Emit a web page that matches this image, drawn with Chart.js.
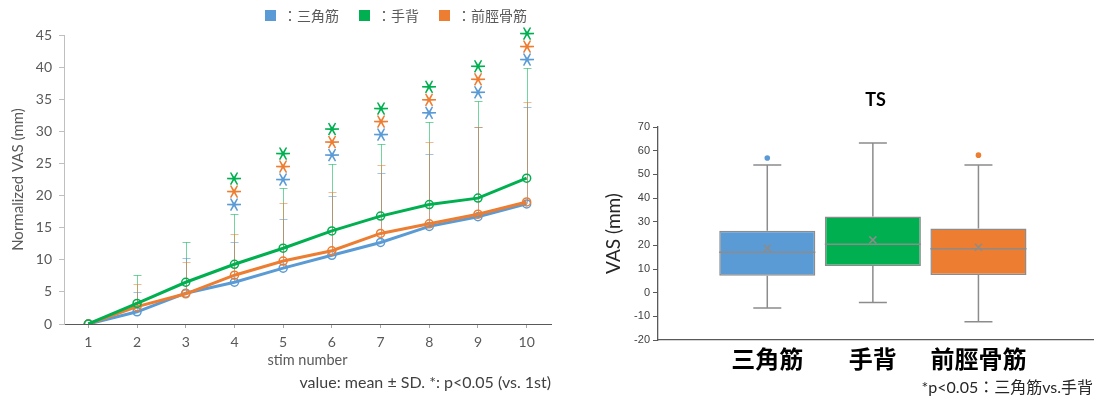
<!DOCTYPE html>
<html>
<head>
<meta charset="utf-8">
<script src="https://cdn.jsdelivr.net/npm/chart.js@4.4.1/dist/chart.umd.min.js"></script>
<style>
  html, body { margin: 0; padding: 0; background: #fff; }
  body { width: 1102px; height: 403px; position: relative; overflow: hidden; }
  #lineWrap { position: absolute; left: 0; top: 0; width: 560px; height: 403px; }
  #boxWrap { position: absolute; left: 560px; top: 0; width: 542px; height: 403px; }
  #legend { position: absolute; left: 265px; top: 5px; height: 20px; display: flex; align-items: center;
            font: 14px "Noto Sans CJK JP", sans-serif; color: #595959; }
  #legend .item { display: flex; align-items: center; margin-right: 20px; }
  #legend .swatch { width: 11px; height: 11px; margin-right: 7px; }
</style>
</head>
<body>
<div id="lineWrap"><canvas id="lineChart" width="560" height="403"></canvas></div>
<div id="legend"></div>
<div id="boxWrap"><canvas id="boxChart" width="542" height="403"></canvas></div>

<script>
// ---- Time course of normalized VAS over 10 stimulations (mean ± SD) ----
const stimNumbers = ['1', '2', '3', '4', '5', '6', '7', '8', '9', '10'];
const seriesNames = ['三角筋', '手背', '前脛骨筋'];

const meanDeltoid  = [0, 1.9, 4.8, 6.5, 8.7, 10.7, 12.7, 15.2, 16.7, 18.7];
const sdDeltoid    = [0, 3.1, 5.5, 6.3, 7.7, 9.2, 10.8, 11.3, 13.9, 15.1];
const meanHand     = [0, 3.2, 6.5, 9.3, 11.8, 14.5, 16.8, 18.6, 19.6, 22.7];
const sdHand       = [0, 4.5, 6.2, 7.9, 9.3, 10.4, 11.3, 12.9, 15.1, 17.1];
const meanTibialis = [0, 2.7, 4.7, 7.6, 9.8, 11.4, 14.1, 15.6, 17.1, 19.0];
const sdTibialis   = [0, 3.5, 5.0, 6.4, 9.1, 9.2, 10.6, 12.7, 13.5, 15.6];

// p<0.05 vs. 1st stimulation
const sigDeltoid  = [false, false, false, true, true, true, true, true, true, true];
const sigHand     = [false, false, false, true, true, true, true, true, true, true];
const sigTibialis = [false, false, false, true, true, true, true, true, true, true];

// ---- TS box plot (VAS, mm) ----
const boxLow    = [-6.5, -4.2, -12.3];
const boxQ1     = [7.1, 11.3, 7.5];
const boxMedian = [17.1, 20.5, 18.6];
const boxQ3     = [26.2, 32.2, 27.1];
const boxHigh   = [53.9, 63.2, 53.9];
const boxMean   = [18.8, 22.3, 19.2];
const boxOutliers = [[56.9], [], [58.1]];

const colors = ['#5b9bd5', '#00b050', '#ed7d31'];
const lightColors = ['rgba(91,155,213,0.6)', 'rgba(0,176,80,0.55)', 'rgba(237,125,49,0.55)'];
const latin = 'Lato, "Noto Sans CJK JP", sans-serif';

Chart.defaults.font.family = latin;
Chart.defaults.animation = false;

// upper SD whiskers drawn under the lines
const sdBars = {
  id: 'sdBars',
  beforeDatasetsDraw(chart) {
    const { ctx, scales: { x, y } } = chart;
    ctx.save();
    ctx.lineWidth = 1;
    [1, 0, 2].forEach(d => {
      const ds = chart.data.datasets[d];
      ctx.strokeStyle = ds.sdColor;
      ds.data.forEach((v, i) => {
        const sd = ds.sd[i];
        if (!sd) return;
        const px = Math.round(x.getPixelForValue(i)) + 0.5;
        const y0 = y.getPixelForValue(v);
        const y1 = Math.round(y.getPixelForValue(v + sd)) + 0.5;
        ctx.beginPath();
        ctx.moveTo(px, y0); ctx.lineTo(px, y1);
        ctx.moveTo(px - 4, y1); ctx.lineTo(px + 4, y1);
        ctx.stroke();
      });
    });
    ctx.restore();
  }
};

// significance asterisks stacked above the highest SD bar
const sigStars = {
  id: 'sigStars',
  afterDatasetsDraw(chart) {
    const { ctx, scales: { x, y } } = chart;
    const stack = [0, 2, 1]; // bottom to top
    const mark = '＊';
    ctx.save();
    ctx.font = 'bold 18px "Noto Sans CJK JP"';
    ctx.textAlign = 'left';
    ctx.textBaseline = 'alphabetic';
    const m = ctx.measureText(mark);
    const offX = (m.actualBoundingBoxRight - m.actualBoundingBoxLeft) / 2;
    const offY = (m.actualBoundingBoxDescent - m.actualBoundingBoxAscent) / 2;
    stimNumbers.forEach((_, i) => {
      const tops = chart.data.datasets.map(ds => ds.data[i] + ds.sd[i]);
      const base = y.getPixelForValue(Math.max(...tops));
      stack.forEach((d, k) => {
        const ds = chart.data.datasets[d];
        if (!ds.sig[i]) return;
        ctx.save();
        ctx.translate(x.getPixelForValue(i), base - 9 - 13 * k);
        ctx.rotate(Math.PI / 2); // upright spoke
        ctx.fillStyle = ds.borderColor;
        ctx.fillText(mark, -offX, -offY);
        ctx.restore();
      });
    });
    ctx.restore();
  }
};

function lineSet(idx, mean, sd, sig, order) {
  return {
    label: seriesNames[idx], data: mean, sd: sd, sig: sig, order: order,
    borderColor: colors[idx], backgroundColor: colors[idx], sdColor: lightColors[idx],
    borderWidth: 3, tension: 0, fill: false,
    pointRadius: 4, pointBorderWidth: 1.5, pointBackgroundColor: 'rgba(255,255,255,0)',
    pointBorderColor: colors[idx]
  };
}

const lineChart = new Chart(document.getElementById('lineChart'), {
  type: 'line',
  data: {
    labels: stimNumbers,
    datasets: [
      lineSet(0, meanDeltoid, sdDeltoid, sigDeltoid, 2),
      lineSet(1, meanHand, sdHand, sigHand, 0),
      lineSet(2, meanTibialis, sdTibialis, sigTibialis, 1)
    ]
  },
  options: {
    responsive: false,
    devicePixelRatio: 1,
    layout: { padding: { left: 0, right: 9, top: 35, bottom: 0 } },
    plugins: {
      legend: { display: false },
      tooltip: { enabled: false },
      subtitle: {
        display: true, position: 'bottom', align: 'end',
        text: 'value: mean ± SD. *: p<0.05 (vs. 1st)',
        font: { size: 16 }, color: '#404040',
        padding: { top: 0, bottom: 10.4 }
      }
    },
    scales: {
      x: {
        type: 'category', offset: true,
        grid: { drawOnChartArea: false, drawTicks: true, tickLength: 4, color: '#a6a6a6' },
        border: { color: '#595959', width: 1 },
        ticks: { font: { size: 14 }, color: '#595959', padding: 6 },
        title: { display: true, text: 'stim number', font: { size: 14.5 }, color: '#595959',
                 padding: { top: 0, bottom: 4 } },
        afterFit(s) { s.height = 49.4; }
      },
      y: {
        min: 0, max: 45,
        grid: { drawOnChartArea: false, drawTicks: true, tickLength: 5, color: '#bfbfbf' },
        border: { color: '#bfbfbf', width: 1 },
        ticks: { stepSize: 5, font: { size: 14 }, color: '#595959', padding: 7 },
        title: { display: true, text: 'Normalized VAS (mm)', font: { size: 15 }, color: '#595959',
                 padding: { top: 9, bottom: 0 } },
        afterFit(s) { s.width = 64; }
      }
    }
  },
  plugins: [sdBars, sigStars]
});

// legend row built from the line datasets
const legendEl = document.getElementById('legend');
lineChart.data.datasets.forEach(ds => {
  const item = document.createElement('div');
  item.className = 'item';
  const sw = document.createElement('span');
  sw.className = 'swatch';
  sw.style.background = ds.borderColor;
  const tx = document.createElement('span');
  tx.textContent = '：' + ds.label;
  item.appendChild(sw); item.appendChild(tx);
  legendEl.appendChild(item);
});

// whiskers and median lines of the box plot
const whiskers = {
  id: 'whiskers',
  afterDatasetDraw(chart, args) {
    if (args.index !== 0) return;
    const { ctx, scales: { x, y } } = chart;
    const meta = args.meta;
    ctx.save();
    ctx.strokeStyle = '#8c8c8c';
    ctx.lineWidth = 1.5;
    meta.data.forEach((bar, i) => {
      const cx = x.getPixelForValue(i + 1);
      const half = bar.width / 2;
      const yL = y.getPixelForValue(boxLow[i]);
      const yH = y.getPixelForValue(boxHigh[i]);
      const y1 = y.getPixelForValue(boxQ1[i]);
      const y3 = y.getPixelForValue(boxQ3[i]);
      const ym = y.getPixelForValue(boxMedian[i]);
      ctx.beginPath();
      ctx.moveTo(cx, y3); ctx.lineTo(cx, yH);
      ctx.moveTo(cx - 14, yH); ctx.lineTo(cx + 14, yH);
      ctx.moveTo(cx, y1); ctx.lineTo(cx, yL);
      ctx.moveTo(cx - 14, yL); ctx.lineTo(cx + 14, yL);
      ctx.moveTo(cx - half, ym); ctx.lineTo(cx + half, ym);
      ctx.stroke();
    });
    ctx.restore();
  }
};

const outlierPoints = [];
const outlierColors = [];
boxOutliers.forEach((list, i) => list.forEach(v => {
  outlierPoints.push({ x: i + 1, y: v });
  outlierColors.push(colors[i]);
}));

new Chart(document.getElementById('boxChart'), {
  type: 'bar',
  data: {
    datasets: [
      {
        type: 'bar', label: 'IQR', order: 2,
        data: seriesNames.map((_, i) => ({ x: i + 1, y: [boxQ1[i], boxQ3[i]] })),
        backgroundColor: colors, borderColor: '#8c8c8c', borderWidth: 1.5, borderSkipped: false,
        barPercentage: 0.91, categoryPercentage: 1
      },
      {
        type: 'scatter', label: 'outliers', order: 1,
        data: outlierPoints,
        pointRadius: 2.8, pointBorderWidth: 0,
        pointBackgroundColor: outlierColors, backgroundColor: outlierColors
      },
      {
        type: 'scatter', label: 'mean', order: 0,
        data: seriesNames.map((_, i) => ({ x: i + 1, y: boxMean[i] })),
        pointStyle: 'crossRot', pointRadius: 5, pointBorderWidth: 1.5,
        pointBorderColor: '#8c8c8c', borderColor: '#8c8c8c'
      }
    ]
  },
  options: {
    responsive: false,
    devicePixelRatio: 1,
    layout: { padding: { left: 0, right: 9, top: 0, bottom: 0 } },
    plugins: {
      legend: { display: false },
      tooltip: { enabled: false },
      title: {
        display: true, text: 'TS', fullSize: false,
        font: { size: 18, weight: 'bold' }, color: '#000',
        padding: { top: 89.2, bottom: 16.2 }
      },
      subtitle: {
        display: true, position: 'bottom', align: 'end',
        text: '*p<0.05：三角筋vs.手背',
        font: { size: 16 }, color: '#262626',
        padding: { top: 0, bottom: 5.4 }
      }
    },
    scales: {
      x: {
        type: 'linear', min: -0.035, max: 4.085, offset: false,
        afterBuildTicks(s) { s.ticks = [1, 2, 3].map(v => ({ value: v })); },
        grid: { display: false, drawTicks: false, offset: false },
        border: { color: '#595959', width: 1.3 },
        ticks: {
          callback: v => seriesNames[v - 1] || '',
          font: { family: '"Noto Sans CJK JP", sans-serif', size: 24, weight: 'bold' },
          color: '#000', padding: 4.9, maxRotation: 0, autoSkip: false
        },
        afterFit(s) { s.height = 38.4; }
      },
      y: {
        min: -20, max: 70,
        grid: { drawOnChartArea: false, drawTicks: true, tickLength: 5, color: '#595959' },
        border: { color: '#595959', width: 1.3 },
        ticks: { stepSize: 10, font: { family: '"Liberation Sans", sans-serif', size: 11 },
                 color: '#404040', padding: 3 },
        title: { display: true, text: 'VAS (mm)', font: { size: 19 }, color: '#262626',
                 padding: { top: 42.5, bottom: 0 } },
        afterFit(s) { s.width = 98; }
      }
    }
  },
  plugins: [whiskers]
});
</script>
</body>
</html>
